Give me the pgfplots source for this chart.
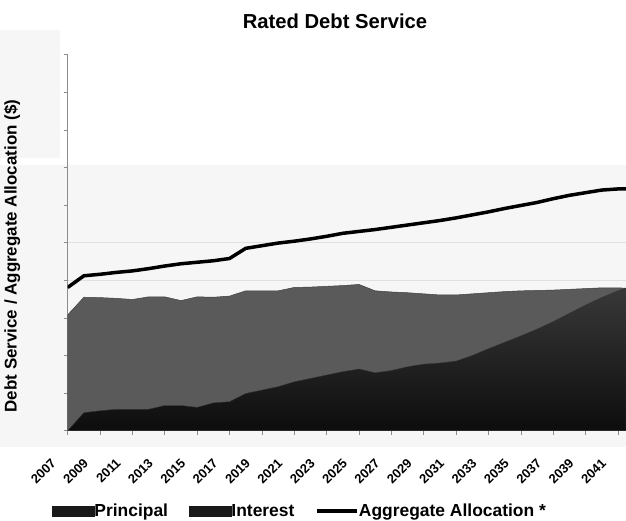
\documentclass[border=0pt]{standalone}
\usepackage{fontspec}
\setmainfont{Liberation Sans}
\usepackage{pgfplots}
\usepackage{pgfplotstable}
\pgfplotsset{compat=1.18}
\definecolor{interestc}{HTML}{5A5A5A}
\definecolor{principalc}{HTML}{2C2C2C}
\definecolor{bgc}{HTML}{F6F6F6}
\definecolor{axc}{HTML}{8C8C8C}

\pgfplotstableread{
year principal total agg
2007 0.00 3.08 3.81
2008 0.48 3.55 4.12
2009 0.53 3.54 4.16
2010 0.57 3.52 4.21
2011 0.57 3.49 4.25
2012 0.57 3.56 4.31
2013 0.67 3.56 4.38
2014 0.67 3.46 4.44
2015 0.62 3.56 4.48
2016 0.74 3.55 4.52
2017 0.77 3.58 4.58
2018 0.99 3.72 4.85
2019 1.08 3.72 4.92
2020 1.17 3.72 4.99
2021 1.30 3.81 5.04
2022 1.39 3.82 5.10
2023 1.48 3.84 5.17
2024 1.57 3.86 5.25
2025 1.64 3.89 5.30
2026 1.54 3.72 5.35
2027 1.60 3.69 5.41
2028 1.70 3.67 5.47
2029 1.77 3.64 5.53
2030 1.80 3.61 5.59
2031 1.85 3.61 5.66
2032 2.00 3.64 5.74
2033 2.18 3.67 5.82
2034 2.35 3.70 5.91
2035 2.52 3.72 5.99
2036 2.70 3.73 6.07
2037 2.90 3.74 6.17
2038 3.12 3.76 6.26
2039 3.34 3.78 6.33
2040 3.54 3.80 6.40
2041 3.72 3.80 6.43
2041.5 3.79 3.79 6.43
}\datatable

\begin{document}
\begin{tikzpicture}
\useasboundingbox (0,0) rectangle (626bp,-521bp);
\fill[bgc] (0,-165bp) rectangle (626bp,-447bp);
\fill[bgc] (0,-30bp) rectangle (60bp,-158bp);
\node[anchor=base, font=\bfseries\fontsize{20.3}{21}\selectfont] at (335bp,-28.3bp) {Rated Debt Service};
\node[rotate=90, anchor=base, inner sep=0pt, font=\bfseries\fontsize{17}{18}\selectfont] at (16.7bp,-256bp) {Debt Service / Aggregate Allocation (\$)};
\begin{axis}[
  at={(67.7bp,-430.7bp)}, anchor=south west,
  scale only axis, width=558.3bp, height=376bp,
  xmin=2007, xmax=2041.5, ymin=0, ymax=10,
  axis x line*=bottom, axis y line*=left,
  axis line style={-, axc, line width=0.7bp},
  tick align=outside, major tick length=4bp,
  tick style={axc, line width=0.6bp},
  xtick={2007,2009,2011,2013,2015,2017,2019,2021,2023,2025,2027,2029,2031,2033,2035,2037,2039,2041},
  xticklabels={2007,2009,2011,2013,2015,2017,2019,2021,2023,2025,2027,2029,2031,2033,2035,2037,2039,2041},
  ytick={0,1,2,3,4,5,6,7,8,9,10}, yticklabels={},
  x tick label style={font=\bfseries\fontsize{13}{13}\selectfont, inner sep=0pt, xshift=-14bp, yshift=-26bp, rotate=45, anchor=east},
  extra y ticks={4,5}, extra y tick labels={},
  extra y tick style={ymajorgrids=true, major tick length=0pt, grid style={black!12, line width=0.8bp}},
  legend columns=3,
  legend style={at={(-0.0347,-0.2136)}, anchor=west, draw=none, fill=none,
    font=\bfseries\fontsize{17.5}{18}\selectfont, nodes={inner sep=0.5bp},
    /tikz/every even column/.append style={column sep=20bp}},
]
\addplot[fill=interestc, draw=black!75, line width=0.5bp, forget plot] table[x=year, y=total] {\datatable} \closedcycle;
\addplot[top color=black!78, bottom color=black!95, draw=black!80, line width=0.4bp, forget plot] table[x=year, y=principal] {\datatable} \closedcycle;
\addplot[black, line width=3.5bp, forget plot] table[x=year, y=agg] {\datatable};
\addlegendimage{legend image code/.code={\fill[black!90] (0bp,-5bp) rectangle (42bp,5bp);}}
\addlegendentry{Principal}
\addlegendimage{legend image code/.code={\fill[black!90] (0bp,-5bp) rectangle (42bp,5bp);}}
\addlegendentry{Interest}
\addlegendimage{legend image code/.code={\draw[black, line width=3.5bp] (0bp,0bp) -- (40bp,0bp);}}
\addlegendentry{Aggregate Allocation *}
\end{axis}
\end{tikzpicture}
\end{document}
